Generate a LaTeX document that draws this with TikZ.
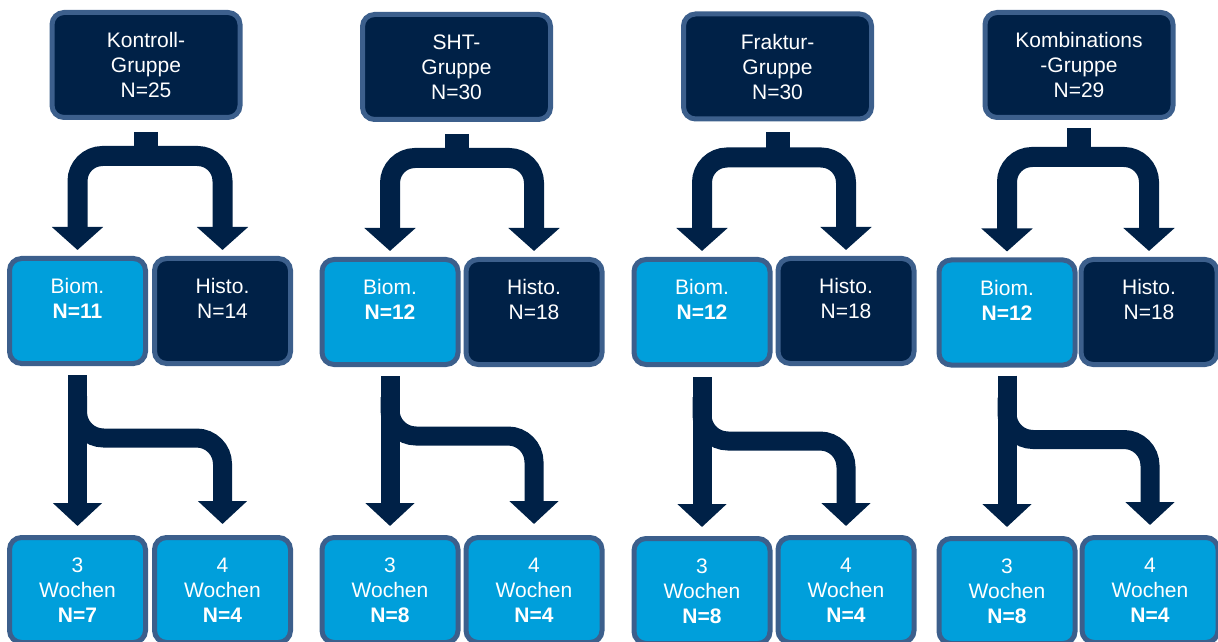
\documentclass[tikz,border=0pt]{standalone}
\usepackage{fontspec}
\setmainfont{Liberation Sans}
\usetikzlibrary{arrows.meta}
\definecolor{navy}{HTML}{002147}
\definecolor{skyblue}{HTML}{009FDB}
\definecolor{rim}{HTML}{3C5F8C}

\tikzset{
    box/.style={draw=rim, line width=5pt, rounded corners=12pt, text=white, align=center,
        font=\fontsize{21}{25}\selectfont},
    group/.style={box, fill=navy, minimum width=188pt, minimum height=105pt},
    biom/.style={box, fill=skyblue, minimum width=136pt, minimum height=105pt},
    histo/.style={box, fill=navy, minimum width=136pt, minimum height=105pt},
    stem/.style={navy, line width=24pt},
    fork/.style={navy, line width=20pt, rounded corners=25pt, shorten >=6pt, shorten <=6pt,
        {Triangle[width=50pt,length=23pt]}-{Triangle[width=50pt,length=23pt]}},
    split/.style={navy, line width=19pt, rounded corners=26pt,
        -{Triangle[width=48pt,length=23pt]}},
}

\begin{document}
\begin{tikzpicture}[x=1pt,y=1pt]
    \useasboundingbox (0,0) rectangle (1218,641);

    % Kontroll-Gruppe
    \node[group] (gK) at (146,576) {Kontroll-\\Gruppe\\N=25};
    \node[biom] (bK) at (77.5,330) {Biom.\\\textbf{N=11}\\\mbox{}};
    \node[histo] (hK) at (222.5,330) {Histo.\\N=14\\\mbox{}};
    \node[biom] (dK) at (77.5,51) {3\\Wochen\\\textbf{N=7}};
    \node[biom] (vK) at (222.5,51) {4\\Wochen\\\textbf{N=4}};
    \coordinate (tK) at ([yshift=-36pt]gK.south);
    \coordinate (jK) at ([yshift=-72pt]bK.south);
    \draw[stem] ([yshift=-12pt]gK.south) -- (tK);
    \draw[fork] (bK.north) |- (tK -| hK.north) -- (hK.north);
    \draw[split, shorten >=9pt] ([yshift=-9pt]bK.south) -- (dK.north);
    \draw[split, shorten >=11pt] ([yshift=-30pt]bK.south) |- (jK -| vK.north) -- (vK.north);

    % SHT-Gruppe
    \node[group] (gS) at (456.5,574) {SHT-\\Gruppe\\N=30};
    \node[biom] (bS) at (390,329) {Biom.\\\textbf{N=12}\\\mbox{}};
    \node[histo] (hS) at (534,329) {Histo.\\N=18\\\mbox{}};
    \node[biom] (dS) at (390,51) {3\\Wochen\\\textbf{N=8}};
    \node[biom] (vS) at (534,51) {4\\Wochen\\\textbf{N=4}};
    \coordinate (tS) at ([yshift=-36pt]gS.south);
    \coordinate (jS) at ([yshift=-69pt]bS.south);
    \draw[stem] ([yshift=-12pt]gS.south) -- (tS);
    \draw[fork] (bS.north) |- (tS -| hS.north) -- (hS.north);
    \draw[split, shorten >=9pt] ([yshift=-9pt]bS.south) -- (dS.north);
    \draw[split, shorten >=11pt] ([yshift=-30pt]bS.south) |- (jS -| vS.north) -- (vS.north);

    % Fraktur-Gruppe
    \node[group] (gF) at (777.5,574.5) {Fraktur-\\Gruppe\\N=30};
    \node[biom] (bF) at (702,329) {Biom.\\\textbf{N=12}\\\mbox{}};
    \node[histo] (hF) at (846,330) {Histo.\\N=18\\\mbox{}};
    \node[biom] (dF) at (702,50) {3\\Wochen\\\textbf{N=8}};
    \node[biom] (vF) at (846,51) {4\\Wochen\\\textbf{N=4}};
    \coordinate (tF) at ([yshift=-36pt]gF.south);
    \coordinate (jF) at ([yshift=-74pt]bF.south);
    \draw[stem] ([yshift=-11pt]gF.south) -- (tF);
    \draw[fork] (bF.north) |- (tF -| hF.north) -- (hF.north);
    \draw[split, shorten >=9pt] ([yshift=-10pt]bF.south) -- (dF.north);
    \draw[split, shorten >=9pt] ([yshift=-30pt]bF.south) |- (jF -| vF.north) -- (vF.north);

    % Kombinations-Gruppe
    \node[group] (gC) at (1079,576) {Kombinations\\-Gruppe\\N=29};
    \node[biom] (bC) at (1007,328.5) {Biom.\\\textbf{N=12}\\\mbox{}};
    \node[histo] (hC) at (1149,329) {Histo.\\N=18\\\mbox{}};
    \node[biom] (dC) at (1007,50) {3\\Wochen\\\textbf{N=8}};
    \node[biom] (vC) at (1150,51) {4\\Wochen\\\textbf{N=4}};
    \coordinate (tC) at ([yshift=-37pt]gC.south);
    \coordinate (jC) at ([yshift=-72pt]bC.south);
    \draw[stem] ([yshift=-8pt]gC.south) -- (tC);
    \draw[fork] (bC.north) |- (tC -| hC.north) -- (hC.north);
    \draw[split, shorten >=9pt] ([yshift=-8pt]bC.south) -- (dC.north);
    \draw[split, shorten >=10pt] ([yshift=-30pt]bC.south) |- (jC -| vC.north) -- (vC.north);
\end{tikzpicture}
\end{document}
